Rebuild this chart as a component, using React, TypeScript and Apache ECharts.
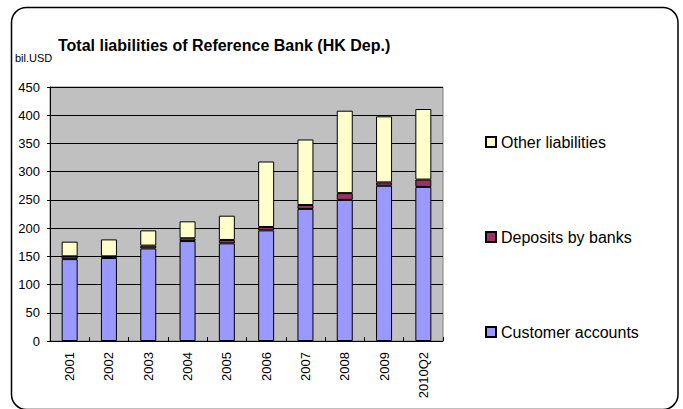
import React, { useEffect, useRef } from "react";
import * as echarts from "echarts";

const categories = ["2001", "2002", "2003", "2004", "2005", "2006", "2007", "2008", "2009", "2010Q2"];
const customerAccounts = [145, 147, 164, 177, 173, 196, 234, 250, 275, 273];
const depositsByBanks = [5, 3, 5, 5, 6, 6, 7, 12, 6, 13];
const otherLiabilities = [26, 30, 27, 30, 43, 116, 116, 146, 117, 125];
const yTicks = { min: 0, max: 450, interval: 50 };

const FONT = "'Liberation Sans', Arial, Helvetica, sans-serif";

export default function App() {
  const ref = useRef<HTMLDivElement>(null);
  useEffect(() => {
    if (!ref.current) return;
    const chart = echarts.init(ref.current, null, { renderer: "svg" });
    const barBase = {
      type: "bar" as const,
      stack: "total",
      barWidth: 16,
      itemStyle: { borderColor: "#000", borderWidth: 1 },
    };
    chart.setOption({
      animation: false,
      backgroundColor: "#fff",
      textStyle: { fontFamily: FONT, color: "#000" },
      title: {
        text: "Total liabilities of Reference Bank (HK Dep.)",
        left: 58,
        top: 37,
        padding: 0,
        textStyle: { fontFamily: FONT, fontSize: 16, fontWeight: "bold", color: "#000" },
      },
      graphic: [
        {
          type: "rect",
          shape: { x: 11.5, y: 7.5, width: 666.5, height: 402, r: 15 },
          style: { fill: "none", stroke: "#000", lineWidth: 1.5 },
          silent: true,
        },
        {
          type: "text",
          x: 15,
          y: 58,
          style: {
            text: "bil.USD",
            fontFamily: FONT,
            fontSize: 11,
            fill: "#000",
            verticalAlign: "middle",
          },
        },
      ],
      legend: {
        orient: "vertical",
        left: 485,
        top: 134,
        padding: 0,
        itemGap: 79,
        itemWidth: 10,
        itemHeight: 10,
        itemTextGap: 5,
        icon: "rect",
        data: ["Other liabilities", "Deposits by banks", "Customer accounts"],
        textStyle: { fontFamily: FONT, fontSize: 16, color: "#000", lineHeight: 16 },
      },
      grid: {
        left: 50,
        top: 87,
        right: 240,
        bottom: 68,
        show: true,
        backgroundColor: "#C0C0C0",
        borderColor: "#808080",
        borderWidth: 1,
        containLabel: false,
      },
      xAxis: {
        type: "category",
        data: categories,
        axisLine: { lineStyle: { color: "#000", width: 1 } },
        axisTick: { show: true, inside: true, length: 4, lineStyle: { color: "#000" } },
        axisLabel: { rotate: 90, fontSize: 13, color: "#000", margin: 11, fontFamily: FONT },
      },
      yAxis: {
        type: "value",
        min: yTicks.min,
        max: yTicks.max,
        interval: yTicks.interval,
        axisLine: { show: true, lineStyle: { color: "#000", width: 1 } },
        axisTick: { show: true, length: 3, lineStyle: { color: "#000" } },
        splitLine: { show: true, lineStyle: { color: "#000", width: 1 } },
        axisLabel: { fontSize: 13, color: "#000", margin: 10, fontFamily: FONT },
      },
      series: [
        { ...barBase, name: "Customer accounts", data: customerAccounts, itemStyle: { ...barBase.itemStyle, color: "#9999FF" } },
        { ...barBase, name: "Deposits by banks", data: depositsByBanks, itemStyle: { ...barBase.itemStyle, color: "#993366" } },
        { ...barBase, name: "Other liabilities", data: otherLiabilities, itemStyle: { ...barBase.itemStyle, color: "#FFFFCC" } },
      ],
    });
    return () => chart.dispose();
  }, []);
  return <div ref={ref} style={{ width: 683, height: 409, position: "absolute", left: 0, top: 0 }} />;
}
